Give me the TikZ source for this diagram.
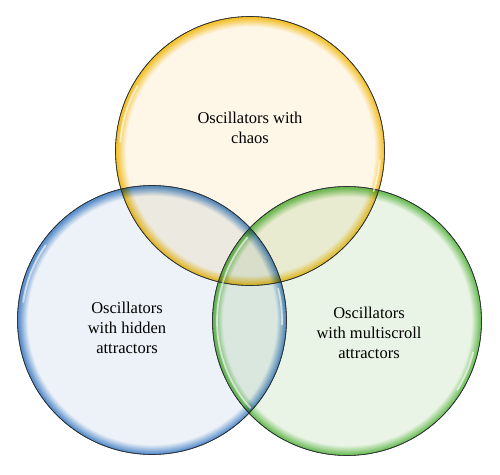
\documentclass[tikz,border=0pt]{standalone}
\usepackage{fontspec}
\setmainfont{Liberation Serif}
\definecolor{yin}{HTML}{FEF6E7}
\definecolor{yedge}{HTML}{F3C12E}
\definecolor{bin}{HTML}{EDF2F8}
\definecolor{bedge}{HTML}{5A8FCB}
\definecolor{gin}{HTML}{EAF4E6}
\definecolor{gedge}{HTML}{6DBD58}
\definecolor{rim}{HTML}{2F3338}
\pgfdeclareradialshading{yglow}{\pgfpoint{0bp}{0bp}}{color(0bp)=(yin); color(23.1bp)=(yin); color(24.8bp)=(yedge); color(25bp)=(yedge); color(50bp)=(yedge)}
\pgfdeclareradialshading{bglow}{\pgfpoint{0bp}{0bp}}{color(0bp)=(bin); color(23.1bp)=(bin); color(24.8bp)=(bedge); color(25bp)=(bedge); color(50bp)=(bedge)}
\pgfdeclareradialshading{gglow}{\pgfpoint{0bp}{0bp}}{color(0bp)=(gin); color(23.1bp)=(gin); color(24.8bp)=(gedge); color(25bp)=(gedge); color(50bp)=(gedge)}
\tikzset{
  setcircle/.style={circle, minimum size=269pt, inner sep=0pt, draw=rim, line width=0.6pt},
  shine/.style={white, opacity=0.6, line width=1.8pt, line cap=round},
  label/.style={align=center, font=\fontsize{16.5}{20}\selectfont, text=black}
}
\begin{document}
\begin{tikzpicture}[x=1pt,y=1pt]
\useasboundingbox (0,0) rectangle (500,474);
\fill[white] (0,0) rectangle (500,474);
\begin{scope}[blend mode=multiply]
\node[setcircle, shading=yglow] (yc) at (250,323) {};
\node[setcircle, shading=bglow] (bc) at (152,154) {};
\node[setcircle, shading=gglow] (gc) at (347,153) {};
\end{scope}
% outlines redrawn on top
\draw[rim, line width=0.6pt] (yc.center) circle[radius=134.5];
\draw[rim, line width=0.6pt] (bc.center) circle[radius=134.5];
\draw[rim, line width=0.6pt] (gc.center) circle[radius=134.5];
% highlights
\draw[shine] (yc.center) ++(150:130) arc[start angle=150, end angle=176, radius=130];
\draw[shine] (yc.center) ++(-4:130) arc[start angle=-4, end angle=-18, radius=130];
\draw[shine] (bc.center) ++(145:130) arc[start angle=145, end angle=172, radius=130];
\draw[shine] (bc.center) ++(-2:130) arc[start angle=-2, end angle=14, radius=130];
\draw[shine] (gc.center) ++(140:130) arc[start angle=140, end angle=222, radius=130];
\draw[shine] (gc.center) ++(-14:130) arc[start angle=-14, end angle=-32, radius=130];
% texts
\node[label] (yt) at (250,346) {Oscillators with\\chaos};
\node[label] (bt) at (127,146) {Oscillators\\with hidden\\attractors};
\node[label] (gt) at (369,141) {Oscillators\\with multiscroll\\attractors};
\end{tikzpicture}
\end{document}
